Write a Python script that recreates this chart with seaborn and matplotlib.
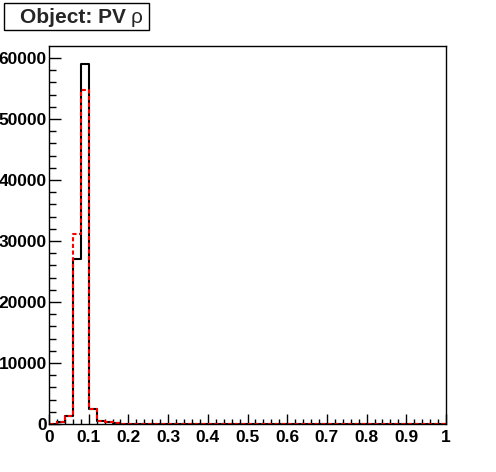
import os
import numpy as np
import pandas as pd
import seaborn as sns
import matplotlib.pyplot as plt
from matplotlib import font_manager as fm
from matplotlib.patches import Rectangle
from matplotlib.ticker import MultipleLocator

#%% data: 50 bins of width 0.02 from 0 to 1
bin_width = 0.02
bin_centers = np.arange(50) * bin_width + bin_width / 2

black_counts = [60, 250, 1300, 27000, 59000, 2500, 500, 250, 150, 80,
                50, 30, 20, 15, 10, 10, 8, 5, 5, 5,
                4, 3, 3, 2, 2, 2, 2, 1, 1, 1,
                1, 1, 1, 1, 1, 1, 0, 0, 0, 0,
                0, 0, 0, 0, 0, 0, 0, 0, 0, 0]
red_counts = [60, 250, 1300, 31200, 54800, 2500, 500, 250, 150, 80,
              50, 30, 20, 15, 10, 10, 8, 5, 5, 5,
              4, 3, 3, 2, 2, 2, 2, 1, 1, 1,
              1, 1, 1, 1, 1, 1, 0, 0, 0, 0,
              0, 0, 0, 0, 0, 0, 0, 0, 0, 0]
x_labels = ['0', '0.1', '0.2', '0.3', '0.4', '0.5', '0.6', '0.7', '0.8', '0.9', '1']

df = pd.DataFrame({'x': bin_centers, 'black': black_counts, 'red': red_counts})

#%% fonts: pick the regular-width Liberation Sans files directly
def find_font(name):
    for f in fm.findSystemFonts():
        if os.path.basename(f) == name:
            return f
    return None

bold_path = find_font('LiberationSans-Bold.ttf')
reg_path = find_font('LiberationSans-Regular.ttf')

def fp(size, bold=True):
    path = bold_path if bold else reg_path
    if path:
        return fm.FontProperties(fname=path, size=size)
    return fm.FontProperties(family='DejaVu Sans', size=size,
                             weight='bold' if bold else 'normal')

#%% plotting
sns.set_style("white")
plt.rcParams['font.family'] = ['Liberation Sans', 'DejaVu Sans']

fig = plt.figure(figsize=(4.96, 4.72), dpi=100)
ax = fig.add_axes([49/496, 48/472, 397/496, 378/472])

sns.histplot(data=df, x='x', weights='black', binwidth=bin_width, binrange=(0, 1),
             element='step', fill=False, color='black', linewidth=1.5, ax=ax)
sns.histplot(data=df, x='x', weights='red', binwidth=bin_width, binrange=(0, 1),
             element='step', fill=False, color='red', linewidth=1.5,
             linestyle=(0, (2, 1.2)), ax=ax)

ax.set_xlim(0, 1)
ax.set_ylim(0, max(black_counts) * 1.05)
ax.set_xlabel('')
ax.set_ylabel('')

ax.xaxis.set_minor_locator(MultipleLocator(0.02))
ax.yaxis.set_major_locator(MultipleLocator(10000))
ax.yaxis.set_minor_locator(MultipleLocator(2000))
ax.set_xticks(np.arange(0, 1.01, 0.1))
ax.set_xticklabels(x_labels)
ax.set_yticks(np.arange(0, 60001, 10000))
ax.set_yticklabels([str(v) for v in range(0, 60001, 10000)])

ax.tick_params(axis='both', which='both', direction='in', top=False, right=False,
               bottom=True, left=True, colors='black', width=1)
ax.tick_params(axis='x', which='major', length=7.2, pad=4)
ax.tick_params(axis='x', which='minor', length=3.6)
ax.tick_params(axis='y', which='major', length=8.6, pad=1.5)
ax.tick_params(axis='y', which='minor', length=5)
for lab in ax.get_xticklabels() + ax.get_yticklabels():
    lab.set_fontproperties(fp(12.5))

for sp in ax.spines.values():
    sp.set_visible(True)
    sp.set_color('black')
    sp.set_linewidth(1)

# title box in the upper left
fig.patches.append(Rectangle((4/496, 1 - 30/472), 145/496, 27/472,
                             transform=fig.transFigure, fill=False,
                             edgecolor='black', linewidth=1))
t = fig.text(20/496, 1 - 23/472, 'Object: PV', fontproperties=fp(15),
             ha='left', va='baseline')
fig.canvas.draw()
bb = t.get_window_extent()
fig.text((bb.x1 + 5) / 496, 1 - 23/472, 'ρ', fontproperties=fp(15, bold=False),
         ha='left', va='baseline')

fig.savefig('out.png', dpi=100, facecolor='white')
